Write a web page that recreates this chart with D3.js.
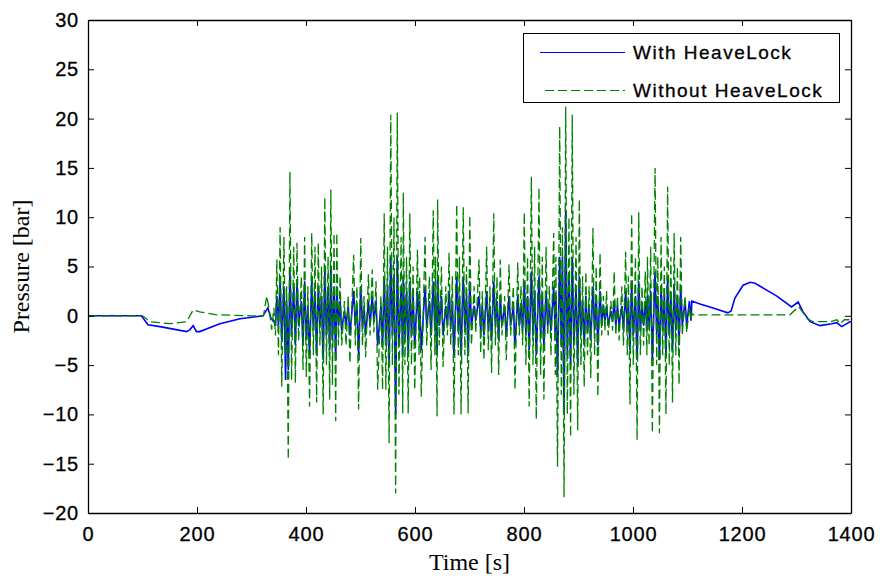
<!DOCTYPE html>
<html>
<head>
<meta charset="utf-8">
<script src="https://cdn.jsdelivr.net/npm/d3@7"></script>
<style>
  html, body { margin: 0; padding: 0; background: #fff; }
  svg { display: block; }
</style>
</head>
<body>
<svg id="chart" width="880" height="578"></svg>
<script>
// ---- data ----
const xTicks = [0, 200, 400, 600, 800, 1000, 1200, 1400];
const yTicks = [-20, -15, -10, -5, 0, 5, 10, 15, 20, 25, 30];
const seriesNames = ["With HeaveLock", "Without HeaveLock"];

// quiet part before the oscillation [time s, pressure bar]
const blueBefore = [[0,0],[98,0],[110,-0.9],[132,-1.1],[181,-1.6],[187,-1.4],[193,-1.0],[199,-1.6],[205,-1.6],[242,-0.8],[279,-0.3],[321,0],[330,0.8],[336,-0.3],[340,-0.4],[344,-1.0]];
const greenBefore = [[0,0],[100,0],[114,-0.6],[150,-0.8],[181,-0.6],[193,0.6],[205,0.4],[236,0.1],[300,0],[322,0],[328,2.0],[333,0.5],[337,-1.4],[341,0.8],[344,-2.0]];

// oscillating part: one entry per wave cycle (time, peak, trough)
const cycleTimes = [348,354,361,366,372,379,385,393,399,405,412,418,424,430,436,442,447,453,458,464,472,479,489,495,502,508,516,523,530,539,545,551,557,563,569,576,580,586,592,598,606,610,620,628,635,639,643,650,658,664,670,678,683,690,696,702,710,719,725,733,739,746,752,758,766,774,782,790,796,802,808,815,821,829,835,842,848,856,860,867,872,878,884,890,897,903,909,915,921,928,934,941,947,953,961,967,973,981,988,993,999,1006,1012,1018,1024,1028,1034,1042,1047,1053,1059,1065,1071,1077,1083,1089,1097,1105];
const greenMax = [5.7,9,8,3,14.6,7,7.4,4,8,3,8.4,7,7.4,5,12,6,12.8,8.4,8.4,4,1.5,2,6.2,3,7.9,2,4.2,4.7,3.5,2,10.4,7,20.4,10,20.6,8,12.5,6,10.4,5,6.7,4,8,4,10.7,6,11.8,5,3,6.4,4,11.3,6,11,5,10.2,3,5.7,2.5,7,3,10.4,4,5.7,2,5.2,3,5.4,3,10.5,6,14.1,7,13,6,7,3,8.4,6,19.2,9,21.2,10,20.4,8,11.8,4,4.5,3,8.9,5,6.4,2,2.5,1.5,4.5,2,3,6.5,4,10.4,6,10.5,3,4.5,6,7,15,6,8,5,13.1,6,8.4,5,8,2,1];
const greenMin = [-4,-7.2,-4,-14.6,-6.5,-6.8,-2.5,-5.5,-6.2,-9.2,-4,-8.8,-3,-10,-5,-8.5,-7,-10.7,-3,-3,-3,-4.8,-3,-9.5,-3,-4.2,-2,-1.7,-7.5,-7.5,-7.5,-12.9,-5,-18,-8,-9.9,-5,-9.9,-5,-7.5,-4,-8.2,-3,-5.5,-4,-10.2,-3,-5.2,-2,-3,-10,-4,-10,-4,-9.9,-3,-1.7,-3.8,-4.5,-3.5,-5.8,-3,-6,-2,-4.5,-2,-7.5,-2,-3,-5,-9.2,-5,-10.5,-6,-8.5,-2,-4,-6,-15.3,-8,-18.4,-10,-12.3,-8,-11.6,-5,-7.2,-4,-6.3,-4,-8.2,-2,-1.5,-2,-1.5,-2,-2.5,-3,-4,-9,-5,-12.6,-4,-3,-4,-3,-11.9,-5,-11.9,-4,-10,-5,-8.8,-4,-7,-2,-1.7,-0.5];
const blueMax = [2,3.5,3,1.5,4.5,3,3.5,1.5,3.5,1,3.5,2.5,3,2,4.5,2.5,5,3,3,1.5,0.5,1,2.5,1,3,1,1.5,2,1.5,1,4,3,6,4,6,3,4,2.5,3.5,2,2.5,1.5,3,1.5,3.5,2,4,2,1,2.5,1.5,4,2,4,2,3.5,1,2,1,2.5,1,3.5,1.5,2,1,2,1,2,1,3.5,2,4.5,2.5,4,2,2.5,1,3,2,6,6,10.7,4,6,3,4,1.5,2,1,3,2,2.5,1,1,0.5,1.5,1,1,2.5,1.5,3.5,2,3.5,1,1.5,2,2.5,4.5,2,3,2,4,2,3,2,3,1.5,1.5];
const blueMin = [-1,-2.5,-6.5,-5.5,-2,-3,-1,-3,-2.5,-4,-1.5,-4,-1,-4.5,-2,-3.5,-2.5,-4.5,-1,-1.5,-1,-2,-1,-4,-1,-2,-1,-0.5,-3,-3,-3,-5,-2,-10,-3,-4,-2,-4,-2,-3,-1.5,-3.5,-1,-2,-1.5,-4,-1,-2,-1,-1,-4,-1.5,-4,-1.5,-4,-1,-0.5,-1.5,-2,-1.5,-2.5,-1,-2.5,-1,-2,-1,-3,-1,-1.5,-2,-3.5,-2,-4,-2,-3,-1,-1.5,-2.5,-6,-3,-9.8,-4,-5,-3,-5,-2,-3,-1.5,-2.5,-1.5,-3,-1,-0.5,-1,-0.5,-1,-1,-1.5,-1.5,-3.5,-2,-4.5,-1.5,-1,-1.5,-1,-4.5,-2,-4.5,-1.5,-4,-2,-3.5,-1.5,-3,-1,-1,-0.5];

// quiet part after the oscillation
const blueAfter = [[1108,1.5],[1123,1.2],[1147,0.8],[1174,0.3],[1180,0.5],[1187,1.8],[1202,3.1],[1215,3.4],[1224,3.3],[1264,2.0],[1291,0.9],[1303,1.4],[1312,0.4],[1325,-0.6],[1343,-1.0],[1365,-0.8],[1374,-0.7],[1383,-1.1],[1398,-0.6],[1400,-0.6]];
const greenAfter = [[1108,0.2],[1112,0.1],[1288,0.1],[1304,0.95],[1320,-0.3],[1331,-0.6],[1362,-0.6],[1374,-0.4],[1380,-0.8],[1388,-0.4],[1400,-0.4]];

// ---- build series ----
function buildSeries(before, maxs, mins, after) {
  const pts = before.slice();
  cycleTimes.forEach((t, i) => {
    pts.push([t - 1.5, maxs[i]]);
    pts.push([t + 1.5, mins[i]]);
  });
  return pts.concat(after);
}
const blueSeries = buildSeries(blueBefore, blueMax, blueMin, blueAfter);
const greenSeries = buildSeries(greenBefore, greenMax, greenMin, greenAfter);

// ---- layout ----
const L = 88, R = 851, T = 20, B = 513;
const svg = d3.select("#chart");
const x = d3.scaleLinear().domain([0, 1400]).range([L, R]);
const y = d3.scaleLinear().domain([-20, 30]).range([B, T]);

svg.append("defs").append("clipPath").attr("id", "clip")
  .append("rect").attr("x", L).attr("y", T).attr("width", R - L).attr("height", B - T);

const line = d3.line().x(d => x(d[0])).y(d => y(d[1]));

const plot = svg.append("g").attr("clip-path", "url(#clip)");
plot.append("path").datum(blueSeries)
  .attr("d", line).attr("fill", "none")
  .attr("stroke", "#0000ff").attr("stroke-width", 1.6);
plot.append("path").datum(greenSeries)
  .attr("d", line).attr("fill", "none")
  .attr("stroke", "#008000").attr("stroke-width", 1.3)
  .attr("stroke-dasharray", "9,4");

// ---- axes ----
const tickFont = "'Liberation Sans', Arial, Helvetica, sans-serif";
function styleAxis(g) {
  g.selectAll("path.domain").attr("stroke", "#000").attr("stroke-width", 1.3);
  g.selectAll(".tick line").attr("stroke", "#000").attr("stroke-width", 1);
  g.selectAll(".tick text").attr("fill", "#000")
    .style("font-family", tickFont).style("font-size", "20px").style("letter-spacing", "0.8px")
    .attr("stroke", "#000").attr("stroke-width", 0.3);
}
svg.append("g").attr("transform", `translate(0,${B})`)
  .call(d3.axisBottom(x).tickValues(xTicks).tickSizeInner(-6).tickSizeOuter(0).tickPadding(14).tickFormat(d3.format("d")))
  .call(styleAxis);
svg.append("g").attr("transform", `translate(0,${T})`)
  .call(d3.axisTop(x).tickValues(xTicks).tickSizeInner(-6).tickSizeOuter(0).tickFormat(""))
  .call(styleAxis);
svg.append("g").attr("transform", `translate(${L},0)`)
  .call(d3.axisLeft(y).tickValues(yTicks).tickSizeInner(-6).tickSizeOuter(0).tickPadding(9).tickFormat(d3.format("d")))
  .call(styleAxis);
svg.append("g").attr("transform", `translate(${R},0)`)
  .call(d3.axisRight(y).tickValues(yTicks).tickSizeInner(-6).tickSizeOuter(0).tickFormat(""))
  .call(styleAxis);
svg.selectAll("text").filter(function(){return this.textContent==="";}).remove();

// ---- axis titles ----
const serif = "'Liberation Serif', 'Times New Roman', Times, serif";
svg.append("text").attr("x", (L + R) / 2).attr("y", 570)
  .attr("text-anchor", "middle").style("font-family", serif).style("font-size", "24px")
  .text("Time [s]");
svg.append("text").attr("transform", `translate(29,${(T + B) / 2}) rotate(-90)`)
  .attr("text-anchor", "middle").style("font-family", serif).style("font-size", "24px")
  .text("Pressure [bar]");

// ---- legend ----
const lg = svg.append("g");
lg.append("rect").attr("x", 523.5).attr("y", 33.5).attr("width", 316).attr("height", 69)
  .attr("fill", "#fff").attr("stroke", "#000").attr("stroke-width", 1);
const legendRows = [
  { name: seriesNames[0], color: "#0000ff", dash: null, x0: 540, yy: 52.5 },
  { name: seriesNames[1], color: "#008000", dash: "9,4", x0: 545, yy: 90.5 }
];
legendRows.forEach(r => {
  lg.append("line").attr("x1", r.x0).attr("x2", 625).attr("y1", r.yy).attr("y2", r.yy)
    .attr("stroke", r.color).attr("stroke-width", 1.2)
    .attr("stroke-dasharray", r.dash);
  lg.append("text").attr("x", 633).attr("y", r.yy).attr("dy", "0.35em")
    .style("font-family", tickFont).style("font-size", "19px").style("letter-spacing", "1.5px")
    .attr("fill", "#000").attr("stroke", "#000").attr("stroke-width", 0.3).text(r.name);
});
</script>
</body>
</html>
